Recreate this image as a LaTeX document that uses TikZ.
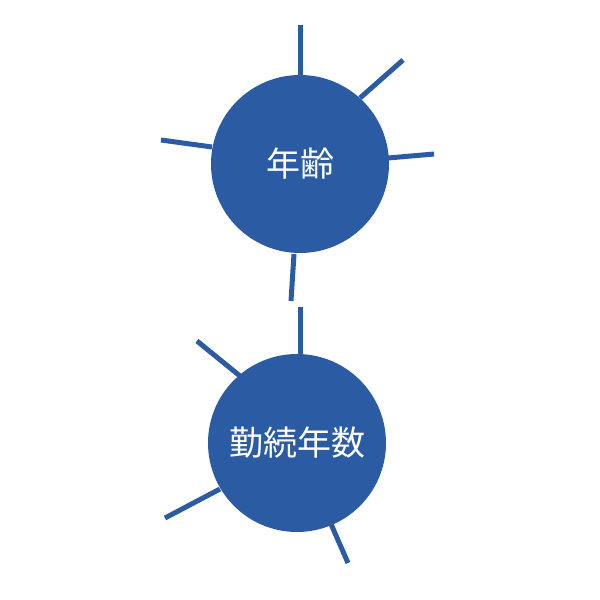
\documentclass[tikz,border=0pt]{standalone}
\usepackage{fontspec}
\newfontfamily\cjk{Noto Sans CJK JP}
\definecolor{blu}{HTML}{2B5CA3}
\begin{document}
\begin{tikzpicture}[x=1pt,y=-1pt,
  bub/.style={circle,fill=blu,minimum size=178pt,inner sep=0pt,text=white,font=\cjk\fontsize{34}{34}\selectfont},
  ray/.style={draw=blu,line width=5pt}]
\useasboundingbox (0,0) rectangle (600,600);
\node[bub] (a) at (300,164) {年齢};
\node[bub] (b) at (297,443) {勤続年数};
\foreach \n/\x/\y/\u/\v in {a1/300/25/300/75, a2/403/60/360/98, a3/161/140/212/147, a4/434/154/388/158, a5/291/301/294/254,
  b1/300/307/300/355, b2/197/341/240/376, b3/165/518/220/489, b4/348/563/331/524}{
  \coordinate (\n o) at (\x,\y);
  \coordinate (\n i) at (\u,\v);
  \draw[ray] (\n o) -- (\n i);
}
\end{tikzpicture}
\end{document}
